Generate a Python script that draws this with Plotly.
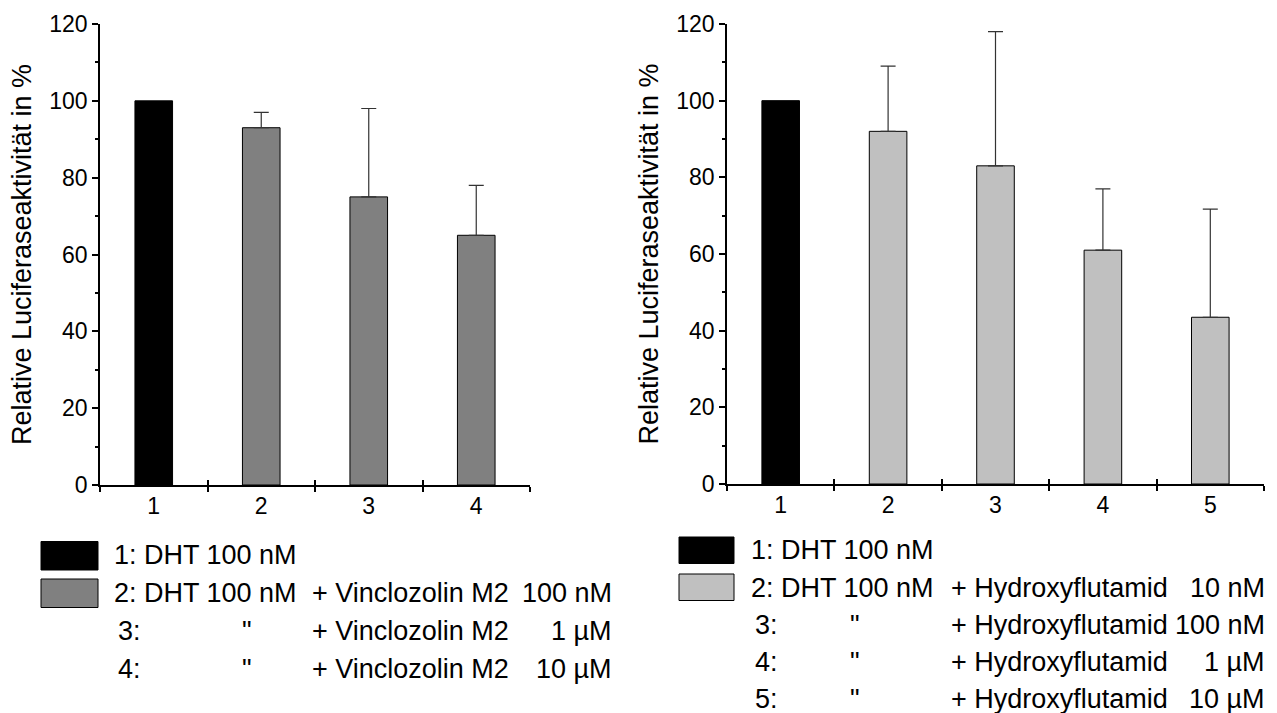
import plotly.graph_objects as go

# ---------------- data ----------------
left_categories = [1, 2, 3, 4]
left_values = [100, 93, 75, 65]
left_err_top = [None, 97, 98, 78]          # upper end of error bar (value + SD)

right_categories = [1, 2, 3, 4, 5]
right_values = [100, 92, 83, 61, 43.5]
right_err_top = [None, 109, 118, 77, 71.7]

y_title = "Relative Luciferaseaktivität in %"
y_ticks = [0, 20, 40, 60, 80, 100, 120]

left_legend_rows = [
    ["1: DHT 100 nM", "", "", ""],
    ["2: DHT 100 nM", "", "+ Vinclozolin M2", "100 nM"],
    ["3:", '"', "+ Vinclozolin M2", "1 µM"],
    ["4:", '"', "+ Vinclozolin M2", "10 µM"],
]
right_legend_rows = [
    ["1: DHT 100 nM", "", "", ""],
    ["2: DHT 100 nM", "", "+ Hydroxyflutamid", "10 nM"],
    ["3:", '"', "+ Hydroxyflutamid", "100 nM"],
    ["4:", '"', "+ Hydroxyflutamid", "1 µM"],
    ["5:", '"', "+ Hydroxyflutamid", "10 µM"],
]

# ---------------- styling ----------------
W, H = 1277, 713
FONT = "Liberation Sans"
BLACK = "#000000"
GRAY_L = "#808080"
GRAY_R = "#C0C0C0"


def px_x(p):
    return p / W


def px_y(p):
    return 1 - p / H


fig = go.Figure()


def add_bars(cats, vals, errtop, color, xa, ya):
    # control bar (black, no error bar)
    fig.add_trace(go.Bar(
        x=cats[:1], y=vals[:1], width=0.35,
        marker=dict(color=BLACK, line=dict(color=BLACK, width=1)),
        xaxis=xa, yaxis=ya, showlegend=False, hoverinfo="x+y"))
    # treatment bars with upper error bars
    plus = [t - v for t, v in zip(errtop[1:], vals[1:])]
    fig.add_trace(go.Bar(
        x=cats[1:], y=vals[1:], width=0.35,
        marker=dict(color=color, line=dict(color=BLACK, width=1)),
        error_y=dict(type="data", symmetric=False, array=plus,
                     arrayminus=[0] * len(plus), color="#333333",
                     thickness=1.2, width=7.5),
        xaxis=xa, yaxis=ya, showlegend=False, hoverinfo="x+y"))
    # empty helper trace for the overlaid tick axis
    ov = "x3" if xa == "x" else "x4"
    fig.add_trace(go.Scatter(x=[], y=[], xaxis=ov, yaxis=ya,
                             showlegend=False, hoverinfo="skip"))


add_bars(left_categories, left_values, left_err_top, GRAY_L, "x", "y")
add_bars(right_categories, right_values, right_err_top, GRAY_R, "x2", "y2")


def xaxis_cfg(domain, n, anchor):
    return dict(
        domain=domain, anchor=anchor, range=[0.5, n + 0.5],
        automargin=False,
        tickmode="array", tickvals=list(range(1, n + 1)),
        ticktext=[str(i) for i in range(1, n + 1)],
        ticks="outside", ticklen=0, tickcolor="rgba(0,0,0,0)",
        tickfont=dict(family=FONT, size=23, color=BLACK),
        showline=True, linecolor=BLACK, linewidth=1.5,
        showgrid=False, zeroline=False, fixedrange=True,
        minor=dict(tickmode="array",
                   tickvals=[i + 0.5 for i in range(0, n + 1)],
                   ticks="outside", ticklen=5, tickwidth=1.5,
                   tickcolor=BLACK, showgrid=False),
    )


def xoverlay_cfg(over, n, anchor):
    return dict(
        overlaying=over, anchor=anchor, range=[0.5, n + 0.5],
        automargin=False,
        tickmode="array", tickvals=[i + 0.5 for i in range(0, n + 1)],
        ticks="inside", ticklen=5, tickwidth=1.5, tickcolor=BLACK,
        showticklabels=False, showline=False, showgrid=False,
        zeroline=False, fixedrange=True,
    )


def yaxis_cfg(domain, anchor):
    return dict(
        domain=domain, anchor=anchor, range=[0, 120],
        automargin=False,
        tickmode="array", tickvals=y_ticks,
        ticks="outside", ticklen=6, tickwidth=1.5, tickcolor=BLACK,
        tickfont=dict(family=FONT, size=23, color=BLACK),
        showline=True, linecolor=BLACK, linewidth=1.5,
        showgrid=False, zeroline=False, fixedrange=True,
        title=dict(text=y_title, font=dict(family=FONT, size=27, color=BLACK),
                   standoff=10),
        minor=dict(tickmode="array", tickvals=[10, 30, 50, 70, 90, 110],
                   ticks="outside", ticklen=3, tickwidth=1.5,
                   tickcolor=BLACK, showgrid=False),
    )


fig.update_layout(
    width=W, height=H,
    margin=dict(l=0, r=0, t=0, b=0, autoexpand=False),
    paper_bgcolor="white", plot_bgcolor="white",
    font=dict(family=FONT, color=BLACK),
    xaxis=xaxis_cfg([px_x(100), px_x(530)], len(left_categories), "y"),
    yaxis=yaxis_cfg([px_y(485), px_y(24)], "x"),
    xaxis2=xaxis_cfg([px_x(727), px_x(1264)], len(right_categories), "y2"),
    yaxis2=yaxis_cfg([px_y(484), px_y(24)], "x2"),
    xaxis3=xoverlay_cfg("x", len(left_categories), "y"),
    xaxis4=xoverlay_cfg("x2", len(right_categories), "y2"),
)

# ---------------- custom legends ----------------
shapes = []
annotations = []


def legend(rows, colors, box_x, box_rows, text_cols, row_y):
    # boxes
    for (y0, y1), c in zip(box_rows, colors):
        shapes.append(dict(type="rect", xref="paper", yref="paper",
                           x0=px_x(box_x[0]), x1=px_x(box_x[1]),
                           y0=px_y(y1), y1=px_y(y0),
                           fillcolor=c, line=dict(color=BLACK, width=1)))
    for r, row in enumerate(rows):
        yy = px_y(row_y[r])
        for c, txt in enumerate(row):
            if not txt:
                continue
            x, anchor = text_cols[c]
            if c == 0 and r >= 2:
                x = x + 4
            annotations.append(dict(
                text=txt, xref="paper", yref="paper", x=px_x(x), y=yy,
                xanchor=anchor, yanchor="middle", showarrow=False,
                borderpad=0,
                font=dict(family=FONT, size=27, color=BLACK)))


legend(left_legend_rows, [BLACK, GRAY_L], (41, 98),
       [(541.5, 570), (579, 607.5)],
       [(113, "left"), (247, "center"), (311, "left"), (613, "right")],
       [555, 593, 631, 669])
legend(right_legend_rows, [BLACK, GRAY_R], (679, 734),
       [(537, 563.5), (574, 600.5)],
       [(750, "left"), (855, "center"), (950, "left"), (1266, "right")],
       [550, 588, 625, 662, 699])

fig.update_layout(shapes=shapes, annotations=annotations)

fig.write_html(
    "out.html",
    config={"displayModeBar": False},
    post_script="document.body.style.margin='0';document.body.style.overflow='hidden';",
)
